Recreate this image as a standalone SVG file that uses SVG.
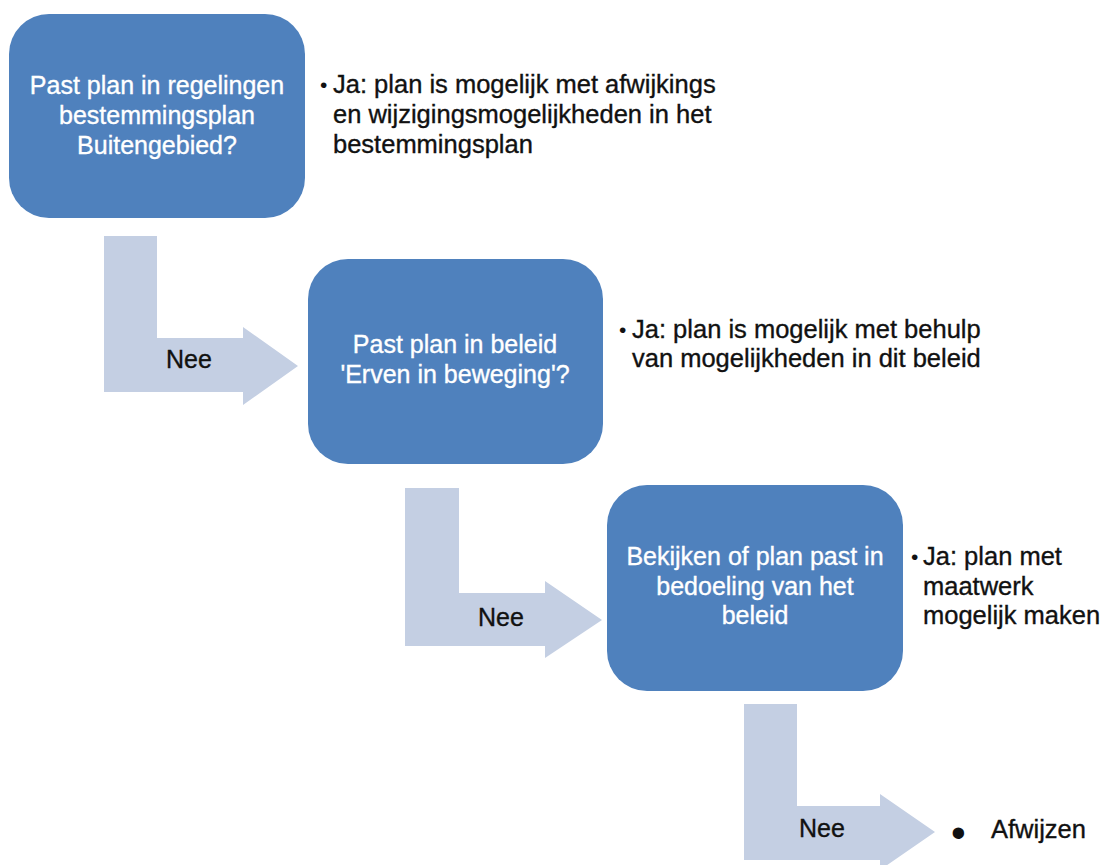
<svg xmlns="http://www.w3.org/2000/svg" width="1114" height="865" viewBox="0 0 1114 865">
<style>
.box{fill:#4f81bd}
.arrow{fill:#c4cfe3}
.bt{font-family:"Liberation Sans",Arial,sans-serif;font-size:25px;fill:#ffffff;stroke:#ffffff;stroke-width:0.35;text-anchor:middle}
.t{font-family:"Liberation Sans",Arial,sans-serif;font-size:25.5px;fill:#111111;stroke:#111111;stroke-width:0.35}
.b{font-family:"Liberation Sans",Arial,sans-serif;font-size:21px;fill:#111111}
.lbl{font-family:"Liberation Sans",Arial,sans-serif;font-size:25px;fill:#111111;stroke:#111111;stroke-width:0.35}
</style>
<rect width="1114" height="865" fill="#ffffff"/>
<g id="connectors">
<polygon class="arrow" points="104,236 157,236 157,338 243,338 243,327 298,366 243,405 243,392 104,392"/>
<polygon class="arrow" points="405,488 459,488 459,593 545,593 545,581 602,620 545,658 545,646 405,646"/>
<polygon class="arrow" points="744,704 797,704 797,806 880,806 880,794 935,832 880,870 880,860 744,860"/>
<text class="lbl" x="166" y="368">Nee</text>
<text class="lbl" x="478" y="626">Nee</text>
<text class="lbl" x="799" y="837">Nee</text>
</g>
<g id="node1">
<rect class="box" x="9" y="14" width="296" height="204" rx="40" ry="40"/>
<text class="bt" x="157" y="94">Past plan in regelingen</text>
<text class="bt" x="157" y="124">bestemmingsplan</text>
<text class="bt" x="157" y="154">Buitengebied?</text>
</g>
<g id="note1">
<text class="b" x="320" y="92">•</text>
<text class="t" x="333" y="93">Ja: plan is mogelijk met afwijkings</text>
<text class="t" x="333" y="123">en wijzigingsmogelijkheden in het</text>
<text class="t" x="333" y="153">bestemmingsplan</text>
</g>
<g id="node2">
<rect class="box" x="308" y="259" width="295" height="205" rx="40" ry="40"/>
<text class="bt" x="455" y="353">Past plan in beleid</text>
<text class="bt" x="455" y="383">'Erven in beweging'?</text>
</g>
<g id="note2">
<text class="b" x="619" y="337">•</text>
<text class="t" x="632" y="338">Ja: plan is mogelijk met behulp</text>
<text class="t" x="632" y="367">van mogelijkheden in dit beleid</text>
</g>
<g id="node3">
<rect class="box" x="607" y="485" width="296" height="206" rx="40" ry="40"/>
<text class="bt" x="755" y="565">Bekijken of plan past in</text>
<text class="bt" x="755" y="595">bedoeling van het</text>
<text class="bt" x="755" y="624">beleid</text>
</g>
<g id="note3">
<text class="b" x="911" y="564">•</text>
<text class="t" x="923" y="565">Ja: plan met</text>
<text class="t" x="923" y="595">maatwerk</text>
<text class="t" x="923" y="624">mogelijk maken</text>
</g>
<g id="note4">
<text class="b" x="951" y="847" style="font-size:42px">•</text>
<text class="t" x="991" y="838">Afwijzen</text>
</g>
</svg>
